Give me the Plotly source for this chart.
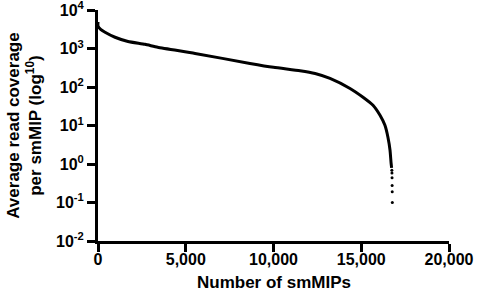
import plotly.graph_objects as go

# Curve (rank of smMIP vs average read coverage)
smmip_rank = [0, 0, 150, 400, 970, 1710, 2680, 3400, 5530, 8660, 10000, 11510, 12370, 13220,
              14360, 15100, 15670, 16070, 16350, 16520, 16640, 16700, 16730]
coverage = [5000, 3900, 3200, 2700, 2000, 1550, 1310, 1100, 760, 417, 330, 270, 229, 170,
            93, 55, 34, 18.6, 10.2, 5.0, 2.3, 1.07, 0.8]

# Isolated low-coverage points at the tail
tail_rank = [16745, 16750, 16755, 16760, 16765, 16770]
tail_cov = [0.69, 0.59, 0.44, 0.28, 0.19, 0.1]

y_tickvals = [1e-2, 1e-1, 1e0, 1e1, 1e2, 1e3, 1e4]
y_ticktext = ["10<sup>-2</sup>", "10<sup>-1</sup>", "10<sup>0</sup>", "10<sup>1</sup>",
              "10<sup>2</sup>", "10<sup>3</sup>", "10<sup>4</sup>"]
x_tickvals = [0, 5000, 10000, 15000, 20000]
x_ticktext = ["0", "5,000", "10,000", "15,000", "20,000"]

FONT = "Liberation Sans, Arial, sans-serif"

fig = go.Figure()
fig.add_trace(go.Scatter(x=smmip_rank, y=coverage, mode="lines",
                         line=dict(color="black", width=3, shape="spline", smoothing=0.5),
                         showlegend=False, hoverinfo="skip"))
fig.add_trace(go.Scatter(x=tail_rank, y=tail_cov, mode="markers",
                         marker=dict(color="black", size=3),
                         showlegend=False, hoverinfo="skip"))

fig.update_layout(
    width=477, height=300,
    margin=dict(l=98, r=28, t=10, b=59),
    paper_bgcolor="white", plot_bgcolor="white",
    font=dict(family=FONT, color="black", size=16),
    xaxis=dict(range=[0, 20000], tickvals=x_tickvals, ticktext=x_ticktext,
               automargin=False, ticklabelstandoff=-6,
               showgrid=False, zeroline=False, showline=True, linecolor="black",
               linewidth=3, ticks="outside", ticklen=8, tickwidth=3, tickcolor="black",
               tickfont=dict(family=FONT, size=16, color="black", weight="bold")),
    yaxis=dict(type="log", range=[-2, 4.01], tickvals=y_tickvals, ticktext=y_ticktext,
               automargin=False, ticklabeloverflow="allow",
               showgrid=False, zeroline=False, showline=True, linecolor="black",
               linewidth=3, ticks="outside", ticklen=8, tickwidth=3, tickcolor="black",
               tickfont=dict(family=FONT, size=16, color="black", weight="bold")),
    annotations=[
        dict(xref="paper", yref="paper", x=-0.21, y=0.5,
             xanchor="center", yanchor="middle", textangle=-90, showarrow=False,
             text="Average read coverage<br>per smMIP (log<sup>10</sup>)",
             font=dict(family=FONT, size=17, color="black", weight="bold")),
        dict(xref="paper", yref="paper", x=0.5, y=-0.1775,
             xanchor="center", yanchor="middle", showarrow=False,
             text="Number of smMIPs",
             font=dict(family=FONT, size=17, color="black", weight="bold")),
    ],
)

fig.write_html("out.html", config={"displayModeBar": False},
               post_script="document.body.style.margin='0';document.body.style.overflow='hidden';")
